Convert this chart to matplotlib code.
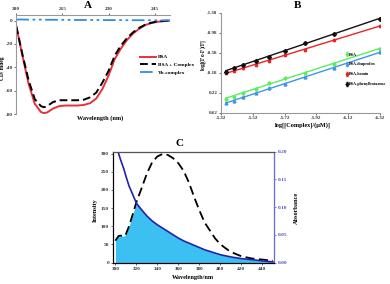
import numpy as np
import matplotlib
matplotlib.use("Agg")
import matplotlib.pyplot as plt

plt.rcParams["font.family"] = ["Liberation Serif", "DejaVu Serif"]
plt.rcParams["font.weight"] = "bold"
plt.rcParams["axes.unicode_minus"] = False

# ---- Panel A: CD spectra ----
cd_wavelength = [200, 202, 204, 206, 208, 209, 210, 212, 214, 216, 218, 220, 222, 224,
                 226, 228, 230, 232, 234, 236, 238, 240, 242, 244, 246, 248, 250]
cd_bsa = [-5, -30, -54, -71, -78, -79, -78.5, -75, -73, -72.5, -72.5, -72.5, -72, -70.5,
          -66.5, -58.5, -47, -33, -24, -16.6, -11, -7, -3.8, -2, -1, -0.5, -0.2]
cd_bsa_complex = [-5, -29, -51, -67, -73, -74, -73, -69.5, -68, -68, -68, -68, -67.5, -65.5,
                  -61.5, -53, -43, -30, -21.5, -15, -10, -6.2, -3.4, -1.8, -0.8, -0.3, 0]
cd_yb_complex = [0.9, 0.9, 0.8, 0.8, 0.8, 0.7, 0.7, 0.7, 0.6, 0.6, 0.6, 0.5, 0.5, 0.5,
                 0.5, 0.4, 0.4, 0.4, 0.4, 0.3, 0.3, 0.3, 0.3, 0.3, 0.2, 0.2, 0.2]

# ---- Panel B: double-log plots ----
log_complex = [-5.35, -5.40, -5.46, -5.54, -5.62, -5.72, -5.85, -6.03, -6.32]
log_bsa = [0.33, 0.30, 0.22, 0.13, 0.01, -0.08, -0.19, -0.37, -0.66]
log_ibuprofen = [0.42, 0.38, 0.30, 0.22, 0.12, 0.04, -0.10, -0.28, -0.60]
log_hemin = [-0.18, -0.22, -0.28, -0.35, -0.43, -0.55, -0.64, -0.85, -1.12]
log_phenylbutazone = [-0.21, -0.29, -0.35, -0.43, -0.50, -0.63, -0.79, -0.97, -1.26]

# ---- Panel C: emission / absorption overlap ----
c_wavelength = [300, 303, 305, 308, 310, 313, 316, 320, 325, 330, 335, 340, 345, 350, 355,
                360, 365, 370, 375, 380, 385, 390, 395, 400, 405, 410, 420, 430, 440, 450]
emission = [60, 73, 74, 72, 78, 100, 128, 166, 205, 245, 276, 292, 299, 296, 287,
            273, 252, 220, 180, 143, 110, 88, 66, 50, 39, 29, 17, 11, 8, 5]
absorbance = [0.223, 0.197, 0.185, 0.169, 0.156, 0.138, 0.125, 0.107, 0.095, 0.084, 0.075,
              0.068, 0.062, 0.056, 0.050, 0.044, 0.039, 0.035, 0.031, 0.027, 0.023, 0.020,
              0.017, 0.014, 0.012, 0.010, 0.007, 0.005, 0.003, 0.001]

W, H = 390, 284
fig = plt.figure(figsize=(W / 100, H / 100), dpi=100)


def box(left, top, right, bottom):
    return [left / W, 1 - bottom / H, (right - left) / W, (bottom - top) / H]


# ================= A =================
ax_a = fig.add_axes(box(16.3, 14.7, 170, 114.3))
ax_a.plot(cd_wavelength, cd_bsa, color="#e8303a", lw=1.4, label="BSA")
ax_a.plot(cd_wavelength, cd_bsa_complex, color="black", lw=1.4, dashes=(4, 2),
          label="BSA + Complex")
ax_a.plot(cd_wavelength, cd_yb_complex, color="#2e8de0", lw=1.3,
          dashes=(7, 2, 1.5, 2, 1.5, 2), label="Yb-complex")
ax_a.set_xlim(200, 250)
ax_a.set_ylim(-80, 5)
ax_a.set_xticks([200, 215, 230, 245])
ax_a.set_yticks([0, -20, -40, -60, -80])
ax_a.xaxis.tick_top()
for s in ["right", "bottom"]:
    ax_a.spines[s].set_visible(False)
for s in ["left", "top"]:
    ax_a.spines[s].set_color("#999999")
    ax_a.spines[s].set_linewidth(0.8)
ax_a.tick_params(labelsize=3.8, length=1.5, width=0.5, pad=1, colors="#333333")
ax_a.legend(loc="upper left", bbox_to_anchor=(0.79, 0.62), fontsize=3.8, frameon=False,
            handlelength=3, handletextpad=0.4, labelspacing=0.6, borderaxespad=0)
fig.text(88 / W, 1 - 6 / H, "A", fontsize=8, ha="center", va="center")
fig.text(100 / W, 1 - 118 / H, "Wavelength (nm)", fontsize=4.5, ha="center", va="center")
fig.text(2.8 / W, 1 - 68 / H, "CD/ mdeg", fontsize=4, ha="center", va="center", rotation=90)

# ================= B =================
ax_b = fig.add_axes(box(221, 13, 380, 113))
series_b = [
    (log_bsa, "#5cec5c", "P", "BSA"),
    (log_ibuprofen, "#3e95ea", "^", "BSA-ibuprofen"),
    (log_hemin, "#e82424", "s", "BSA-hemin"),
    (log_phenylbutazone, "#111111", "D", "BSA-phenylbutazone"),
]
xs = np.array(log_complex)
for values, color, marker, name in series_b:
    k, b = np.polyfit(xs, values, 1)
    ax_b.plot(xs[[0, -1]], k * xs[[0, -1]] + b, color=color, lw=1.0)
    ax_b.errorbar(xs, values, yerr=0.02, fmt=marker, color=color, ms=2, elinewidth=0.5,
                  capsize=0.8, label=name)
ax_b.set_xlim(-5.32, -6.32)
ax_b.set_ylim(0.62, -1.38)
ax_b.set_xticks([-5.32, -5.52, -5.72, -5.92, -6.12, -6.32])
ax_b.set_yticks([-1.38, -0.98, -0.58, -0.18, 0.22, 0.62])
ax_b.set_xticklabels(["-5.32", "-5.52", "-5.72", "-5.92", "-6.12", "-6.32"])
ax_b.set_yticklabels(["-1.38", "-0.98", "-0.58", "-0.18", "0.22", "0.62"])
for s in ["right", "top"]:
    ax_b.spines[s].set_visible(False)
for s in ["left", "bottom"]:
    ax_b.spines[s].set_color("#999999")
    ax_b.spines[s].set_linewidth(0.8)
ax_b.tick_params(labelsize=3.6, length=1.5, width=0.5, pad=1, colors="#333333")
ax_b.legend(loc="upper left", bbox_to_anchor=(0.775, 0.62), fontsize=3.0, frameon=False,
            handlelength=0.5, handletextpad=0.15, labelspacing=1.4, borderaxespad=0,
            markerscale=0.8)
fig.text(297 / W, 1 - 6 / H, "B", fontsize=8, ha="center", va="center")
fig.text(303 / W, 1 - 125 / H, "log[[Complex]/(\u03bcM)]", fontsize=4.5, ha="center",
         va="center")
fig.text(203.5 / W, 1 - 55 / H, "log[(F$_0$-F)/F]", fontsize=4, ha="center", va="center",
         rotation=90)

# ================= C =================
ax_c = fig.add_axes(box(113.3, 151.7, 274, 262.5))
ax_c2 = ax_c.twinx()
c_top, abs_top = 305, 0.20
em = np.array(emission, dtype=float)
ab_scaled = np.array(absorbance) * c_top / abs_top
ax_c.fill_between(c_wavelength, 0, np.minimum(em, ab_scaled), color="#3cc0f2", lw=0)
ax_c.plot(c_wavelength, emission, color="black", lw=1.3, dashes=(5, 2.5))
ax_c2.plot(c_wavelength, absorbance, color="#2222aa", lw=1.2)
ax_c.set_xlim(298, 451)
ax_c.set_ylim(0, c_top)
ax_c2.set_ylim(0, abs_top)
ax_c.set_xticks(range(300, 441, 20))
ax_c.set_yticks(range(0, 301, 50))
ax_c2.set_yticks([0, 0.05, 0.10, 0.15, 0.20])
ax_c2.set_yticklabels(["0.00", "0.05", "0.10", "0.15", "0.20"])
ax_c.tick_params(labelsize=3.8, length=1.5, width=0.5, pad=1.5, colors="#333333")
ax_c2.tick_params(labelsize=3.8, length=1.5, width=0.5, pad=1.5, colors="#4a4ac8")
ax_c2.spines["right"].set_color("#6a6ae0")
ax_c2.spines["top"].set_color("#555555")
ax_c2.spines["left"].set_color("black")
ax_c2.spines["bottom"].set_color("black")
for s in ax_c2.spines.values():
    s.set_linewidth(0.8)
fig.text(180 / W, 1 - 143 / H, "C", fontsize=8, ha="center", va="center")
fig.text(193 / W, 1 - 278 / H, "Wavelength/nm", fontsize=4.5, ha="center", va="center")
fig.text(95 / W, 1 - 210 / H, "Intensity", fontsize=4.5, ha="center", va="center",
         rotation=90)
fig.text(296 / W, 1 - 208 / H, "Absorbance", fontsize=4.5, ha="center", va="center",
         rotation=90)

fig.savefig("out.png", dpi=100)
